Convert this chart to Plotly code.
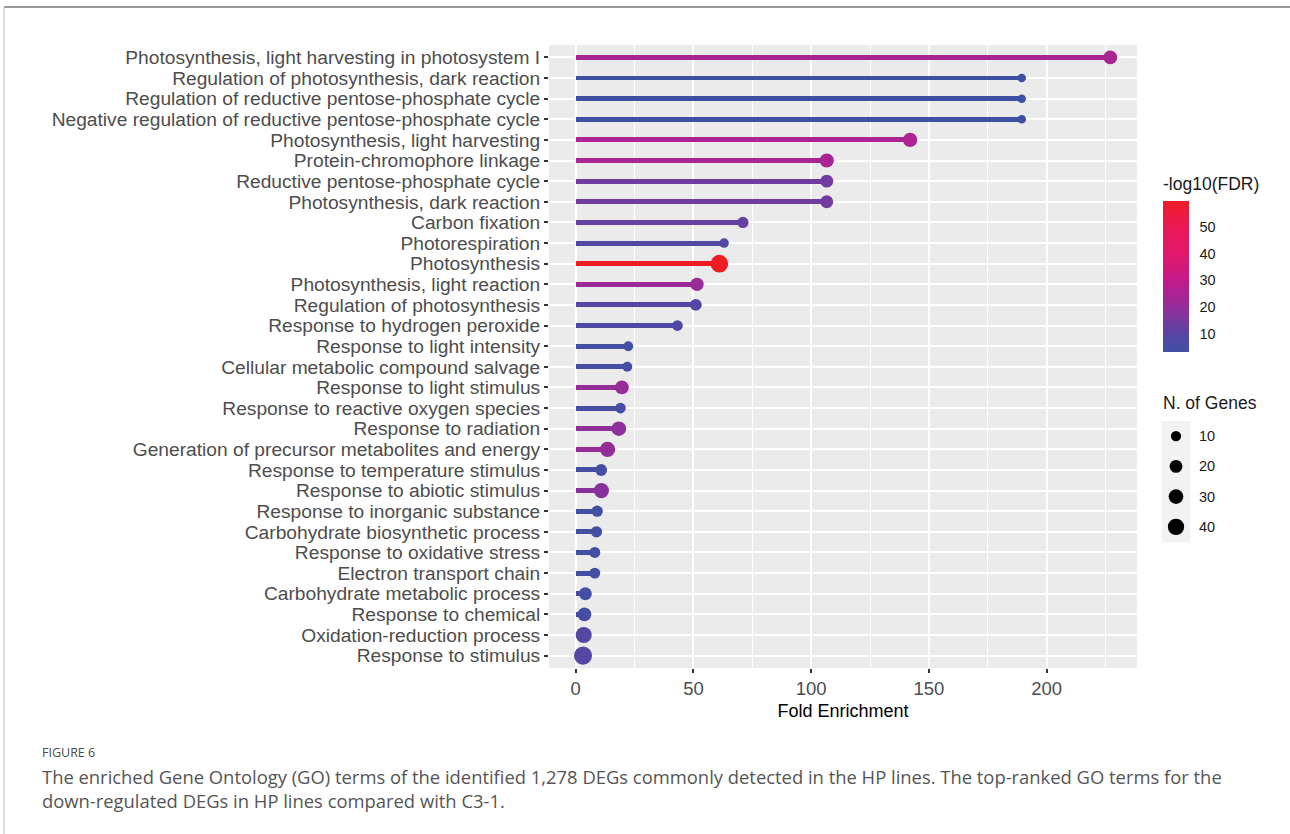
import plotly.graph_objects as go

# GO terms, top to bottom
terms = [
    "Photosynthesis, light harvesting in photosystem I",
    "Regulation of photosynthesis, dark reaction",
    "Regulation of reductive pentose-phosphate cycle",
    "Negative regulation of reductive pentose-phosphate cycle",
    "Photosynthesis, light harvesting",
    "Protein-chromophore linkage",
    "Reductive pentose-phosphate cycle",
    "Photosynthesis, dark reaction",
    "Carbon fixation",
    "Photorespiration",
    "Photosynthesis",
    "Photosynthesis, light reaction",
    "Regulation of photosynthesis",
    "Response to hydrogen peroxide",
    "Response to light intensity",
    "Cellular metabolic compound salvage",
    "Response to light stimulus",
    "Response to reactive oxygen species",
    "Response to radiation",
    "Generation of precursor metabolites and energy",
    "Response to temperature stimulus",
    "Response to abiotic stimulus",
    "Response to inorganic substance",
    "Carbohydrate biosynthetic process",
    "Response to oxidative stress",
    "Electron transport chain",
    "Carbohydrate metabolic process",
    "Response to chemical",
    "Oxidation-reduction process",
    "Response to stimulus",
]
fold_enrichment = [227, 189.4, 189.4, 189.4, 142, 106.6, 106.6, 106.6, 71, 63,
                   61, 51.5, 51, 43.2, 22.3, 21.9, 19.6, 19, 18.3, 13.5,
                   10.8, 10.9, 9.1, 8.8, 8.1, 8.1, 4.1, 3.7, 3.4, 3.1]
neg_log10_fdr = [24, 3.1, 3.1, 3.1, 25, 24, 14, 14, 12, 8,
                 59.7, 21, 8, 7, 4, 4, 20, 5, 19, 20,
                 5, 18, 4, 4, 4, 4, 5, 5, 8, 9]
n_genes = [20, 3, 3, 3, 22, 22, 16, 16, 10, 5,
           42, 18, 12, 8, 6, 6, 20, 8, 24, 28,
           12, 27, 10, 10, 9, 9, 16, 20, 32, 45]

size_breaks = [10, 20, 30, 40]
color_ticks = [10, 20, 30, 40, 50]
x_ticks = [0, 50, 100, 150, 200]

W, H = 1290, 834
SANS = "Liberation Sans, Arial, sans-serif"
CAPTION = "Open Sans, sans-serif"

colorscale = [
    [0.00, "#3E50A3"],
    [0.12, "#5A45A5"],
    [0.30, "#952C98"],
    [0.47, "#C41A8A"],
    [0.65, "#E2196C"],
    [0.83, "#EB1855"],
    [1.00, "#EE1D24"],
]
cmin, cmax = min(neg_log10_fdr), max(neg_log10_fdr)


def dot_size(n):
    # point diameter grows with the square root of the gene count
    return 5.2 + 1.92 * n ** 0.5


def fx(px):
    return px / W


def fy(py):
    return 1 - py / H


fig = go.Figure()

# lollipop stems
fig.add_trace(go.Bar(
    x=fold_enrichment, y=terms, orientation="h", width=0.24, base=0,
    marker=dict(color=neg_log10_fdr, colorscale=colorscale, cmin=cmin, cmax=cmax,
                line=dict(width=0)),
    showlegend=False, hoverinfo="skip",
))

# lollipop heads
fig.add_trace(go.Scatter(
    x=fold_enrichment, y=terms, mode="markers",
    marker=dict(
        color=neg_log10_fdr, colorscale=colorscale, cmin=cmin, cmax=cmax,
        size=[dot_size(n) for n in n_genes], opacity=1, line=dict(width=0),
        showscale=True,
        colorbar=dict(
            x=fx(1163), xanchor="left", y=fy(276.5), yanchor="middle",
            len=151, lenmode="pixels", thickness=26, thicknessmode="pixels",
            xpad=0, ypad=0, outlinewidth=0,
            tickvals=color_ticks, ticks="outside", ticklen=8,
            tickcolor="rgba(0,0,0,0)", tickwidth=1,
            tickfont=dict(family=SANS, size=14.5, color="#1a1a1a"),
        ),
    ),
    showlegend=False,
))

# size legend keys (background column + black dots)
key_y = list(range(1, len(size_breaks) + 1))
fig.add_trace(go.Bar(
    x=[1] * len(size_breaks), y=key_y, orientation="h", width=1, base=0,
    marker=dict(color="#F2F2F2", line=dict(width=0)),
    xaxis="x2", yaxis="y2", showlegend=False, hoverinfo="skip",
))
fig.add_trace(go.Scatter(
    x=[0.5] * len(size_breaks), y=key_y, mode="markers",
    marker=dict(color="#000000", size=[dot_size(n) - 1 for n in size_breaks],
                line=dict(width=0), opacity=1),
    xaxis="x2", yaxis="y2", showlegend=False, hoverinfo="skip",
))

# legend key rows span pixels 421..542 -> centre of each key row
key_top, key_bottom = 421, 542
key_h = (key_bottom - key_top) / len(size_breaks)

annotations = []
for i, b in enumerate(size_breaks):
    annotations.append(dict(
        x=fx(1197), y=fy(key_top + key_h * (i + 0.5)), xref="paper", yref="paper",
        text=str(b), showarrow=False, xanchor="left", yanchor="middle",
        font=dict(family=SANS, size=14.5, color="#1a1a1a"),
    ))

annotations += [
    dict(x=fx(1161), y=fy(184), xref="paper", yref="paper", text="-log10(FDR)",
         showarrow=False, xanchor="left", yanchor="middle",
         font=dict(family=SANS, size=17.5, color="#1a1a1a")),
    dict(x=fx(1161), y=fy(403), xref="paper", yref="paper", text="N. of Genes",
         showarrow=False, xanchor="left", yanchor="middle",
         font=dict(family=SANS, size=17.5, color="#1a1a1a")),
    dict(x=fx(40), y=fy(752), xref="paper", yref="paper", text="FIGURE 6",
         showarrow=False, xanchor="left", yanchor="middle",
         font=dict(family=CAPTION, size=12.5, color="#4A4A4A")),
    dict(x=fx(40), y=fy(776), xref="paper", yref="paper",
         text="The enriched Gene Ontology (GO) terms of the identified 1,278 DEGs commonly "
              "detected in the HP lines. The top-ranked GO terms for the",
         showarrow=False, xanchor="left", yanchor="middle",
         font=dict(family=CAPTION, size=18.4, color="#555555")),
    dict(x=fx(40), y=fy(800), xref="paper", yref="paper",
         text="down-regulated DEGs in HP lines compared with C3-1.",
         showarrow=False, xanchor="left", yanchor="middle",
         font=dict(family=CAPTION, size=18.4, color="#555555")),
]

shapes = [
    dict(type="line", xref="paper", yref="paper", x0=fx(4), x1=1, y0=fy(7), y1=fy(7),
         line=dict(color="#9A9A9A", width=2)),
    dict(type="line", xref="paper", yref="paper", x0=fx(4), x1=fx(4), y0=fy(7), y1=0,
         line=dict(color="#BBBBBB", width=1)),
]

fig.update_layout(
    width=W, height=H, template="none",
    margin=dict(l=0, r=0, t=0, b=0),
    paper_bgcolor="white", plot_bgcolor="#EBEBEB",
    bargap=0,
    xaxis=dict(
        domain=[fx(549), fx(1137)], range=[-11.35, 238.35],
        tickvals=x_ticks, ticks="outside", ticklen=4, tickwidth=1.5, tickcolor="#333333",
        tickfont=dict(family=SANS, size=18.5, color="#4D4D4D"),
        showgrid=True, gridcolor="white", gridwidth=2,
        minor=dict(dtick=25, tick0=0, showgrid=True, gridcolor="white", gridwidth=1, ticks=""),
        zeroline=False, showline=False, automargin=False,
        title=dict(text="Fold Enrichment", standoff=6,
                   font=dict(family=SANS, size=18, color="black")),
    ),
    yaxis=dict(
        domain=[fy(668), fy(45)], type="category",
        categoryorder="array", categoryarray=terms[::-1], range=[-0.6, len(terms) - 0.4],
        tickmode="array", tickvals=terms, ticktext=terms,
        ticks="outside", ticklen=4, tickwidth=1.5, tickcolor="#333333",
        tickfont=dict(family=SANS, size=19.2, color="#4D4D4D"),
        showgrid=True, gridcolor="white", gridwidth=2,
        zeroline=False, showline=False, automargin=False,
    ),
    xaxis2=dict(domain=[fx(1162), fx(1190)], range=[0, 1], anchor="y2",
                visible=False, fixedrange=True),
    yaxis2=dict(domain=[fy(key_bottom), fy(key_top)], range=[4.5, 0.5], anchor="x2",
                visible=False, fixedrange=True),
    annotations=annotations,
    shapes=shapes,
)

fig.write_html("out.html")
